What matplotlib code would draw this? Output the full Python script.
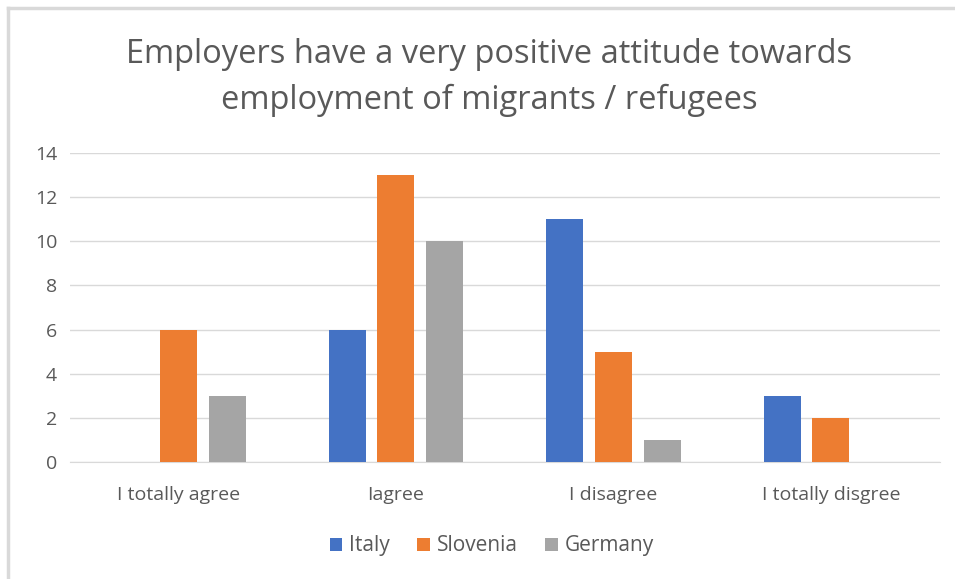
import matplotlib.pyplot as plt
import numpy as np

categories = ['I totally agree', 'Iagree', 'I disagree', 'I totally disgree']
series = ['Italy', 'Slovenia', 'Germany']
italy = [0, 6, 11, 3]
slovenia = [6, 13, 5, 2]
germany = [3, 10, 1, 0]
colors = ['#4472C4', '#ED7D31', '#A5A5A5']

plt.rcParams['font.family'] = ['Open Sans', 'DejaVu Sans']
txt = '#595959'

fig = plt.figure(figsize=(9.55, 5.79), dpi=100)
ax = fig.add_axes([0.073, 0.202, 0.911, 0.534])

x = np.arange(len(categories))
offsets = [-0.225, 0, 0.225]
for vals, off, c, name in zip([italy, slovenia, germany], offsets, colors, series):
    ax.bar(x + off, vals, width=0.17, color=c, label=name, zorder=3)

ax.set_xlim(-0.5, 3.5)
ax.set_ylim(0, 14)
ax.set_yticks(range(0, 15, 2))
ax.set_xticks(x)
ax.set_xticklabels(categories)
ax.tick_params(axis='both', length=0, colors=txt)
ax.tick_params(axis='x', pad=17, labelsize=14)
ax.tick_params(axis='y', pad=9, labelsize=14)
ax.grid(axis='y', color='#D9D9D9', linewidth=1, zorder=0)
for s in ['top', 'right', 'left']:
    ax.spines[s].set_visible(False)
ax.spines['bottom'].set_color('#D9D9D9')

fig.text(0.512, 0.866, 'Employers have a very positive attitude towards\nemployment of migrants / refugees',
         ha='center', va='center', fontsize=23.5, color=txt, linespacing=1.52)

fig.legend(loc='center', bbox_to_anchor=(0.515, 0.057), ncol=3, frameon=False,
           fontsize=15, handlelength=0.6, handleheight=0.6, handletextpad=0.35,
           columnspacing=1.3, labelcolor=txt)

# light frame around the chart
fig.add_artist(plt.Line2D([0.008, 0.008], [0, 0.986], color='#D9D9D9', lw=2.5, transform=fig.transFigure))
fig.add_artist(plt.Line2D([0.008, 1], [0.986, 0.986], color='#D9D9D9', lw=2.5, transform=fig.transFigure))

fig.savefig('out.png', dpi=100)
